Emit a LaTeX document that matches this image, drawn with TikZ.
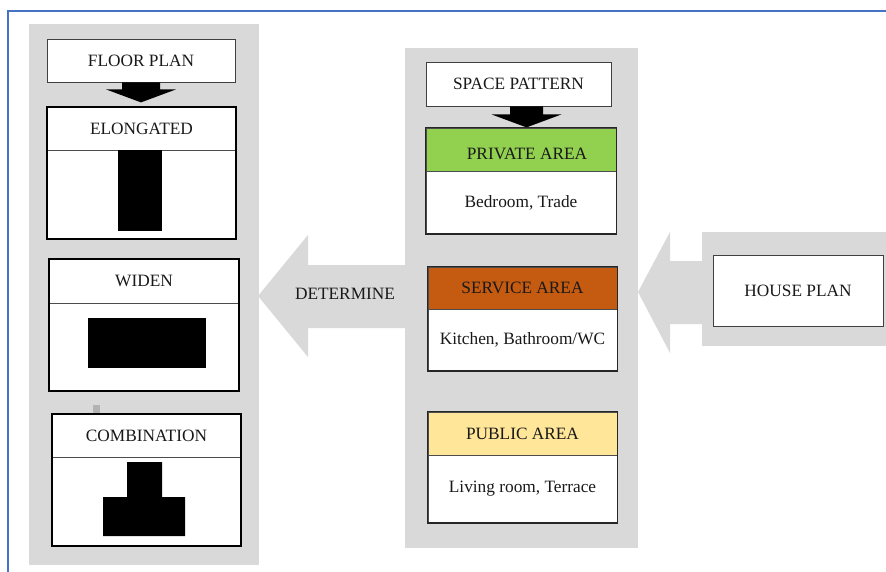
\documentclass[tikz,border=0pt]{standalone}
\usepackage{fontspec}
\setmainfont{Liberation Serif}
\usetikzlibrary{calc}
\definecolor{panelgray}{RGB}{217,217,217}
\definecolor{frameblue}{RGB}{68,114,196}
\definecolor{privgreen}{RGB}{146,208,80}
\definecolor{servorange}{RGB}{197,90,17}
\definecolor{publyellow}{RGB}{255,230,153}
\definecolor{txt}{RGB}{25,25,25}
\tikzset{
  lbl/.style={font=\fontsize{17.3}{20}\selectfont, text=txt, inner sep=0pt},
  plainbox/.style={lbl, draw=black!75, line width=0.8pt, fill=white, rectangle},
  hdr/.style={lbl, draw=black!70, line width=0.6pt, fill=white, rectangle},
  bodybox/.style={lbl, draw=black!70, line width=0.6pt, fill=white, rectangle},
  frame/.style={draw=black, line width=1.8pt},
  blk/.style={fill=black, draw=none, inner sep=0pt, rectangle},
  panel/.style={fill=panelgray, draw=none},
}
\begin{document}
\begin{tikzpicture}[x=1pt,y=-1pt]
\useasboundingbox (0,0) rectangle (886,572);
\fill[white] (0,0) rectangle (886,572);
% blue frame
\draw[frameblue, line width=1.5pt] (8,572) -- (8,11) -- (886,11);
% gray panels
\fill[panel] (29,24) rectangle (259,565);
\fill[panel] (405,48) rectangle (638,548);
\fill[panel] (702,232) rectangle (886,346);
% big gray arrows
\fill[panel] (406,265) -- (308,265) -- (308,235) -- (258,296) -- (308,357) -- (308,328) -- (406,328) -- cycle;
\fill[panel] (703,261) -- (670,261) -- (670,232) -- (638,292) -- (670,353) -- (670,324) -- (703,324) -- cycle;
\node[lbl] (det) at (345,294) {DETERMINE};

% left column
\node[plainbox, minimum width=188, minimum height=43] (fp) at (141,60.5) {FLOOR PLAN};

\node[hdr, minimum width=189, minimum height=43] (elongH) at (141.5,128.5) {ELONGATED};
\node[bodybox, minimum width=189, minimum height=88, anchor=north] (elongB) at (elongH.south) {};
\draw[frame] (elongH.north west) rectangle (elongB.south east);
\node[blk, minimum width=44, minimum height=81, anchor=north] (elongS) at (140,150) {};

\fill[black] ($(fp.south)+(-19,0)$) -- ++(0,7) -- ++(-16,0) -- ++(35,13) -- ++(35,-13) -- ++(-16,0) -- ++(0,-7) -- cycle;

\node[hdr, minimum width=190, minimum height=44] (widenH) at (144,281) {WIDEN};
\node[bodybox, minimum width=190, minimum height=87, anchor=north] (widenB) at (widenH.south) {};
\draw[frame] (widenH.north west) rectangle (widenB.south east);
\node[blk, minimum width=118, minimum height=50] (widenS) at (147,343) {};

\fill[black!30] (93,405) rectangle (100,419);

\node[hdr, minimum width=189, minimum height=43] (combH) at (146.5,435.5) {COMBINATION};
\node[bodybox, minimum width=189, minimum height=88, anchor=north] (combB) at (combH.south) {};
\draw[frame] (combH.north west) rectangle (combB.south east);
\fill[black] (127,462) -- (162,462) -- (162,497) -- (185,497) -- (185,536) -- (103,536) -- (103,497) -- (127,497) -- cycle;

% middle column
\node[plainbox, minimum width=185, minimum height=44] (sp) at (518.5,84) {SPACE PATTERN};
\fill[black] ($(sp.south)+(-8.5,0)$) -- ++(0,8) -- ++(-18.5,0) -- ++(35,13) -- ++(35,-13) -- ++(-18.5,0) -- ++(0,-8) -- cycle;

\node[hdr, fill=privgreen, minimum width=190, minimum height=43] (privH) at (521,149.5) {};
\node[lbl] (privT) at (527,154) {PRIVATE AREA};
\node[bodybox, minimum width=190, minimum height=62, anchor=north] (privB) at (privH.south) {Bedroom, Trade};
\draw[frame, line width=1.5pt, draw=black!85] (privH.north west) rectangle (privB.south east);

\node[hdr, fill=servorange, minimum width=189, minimum height=42] (servH) at (522.5,288) {SERVICE AREA};
\node[bodybox, minimum width=189, minimum height=61, anchor=north] (servB) at (servH.south) {Kitchen, Bathroom/WC};
\draw[frame, line width=1.5pt, draw=black!85] (servH.north west) rectangle (servB.south east);

\node[hdr, fill=publyellow, minimum width=189, minimum height=43] (publH) at (522.5,433.5) {PUBLIC AREA};
\node[bodybox, minimum width=189, minimum height=67, anchor=north] (publB) at (publH.south) {Living room, Terrace};
\draw[frame, line width=1.5pt, draw=black!85] (publH.north west) rectangle (publB.south east);

% right
\node[plainbox, minimum width=170, minimum height=71] (hp) at (798,290.5) {HOUSE PLAN};
\end{tikzpicture}
\end{document}
